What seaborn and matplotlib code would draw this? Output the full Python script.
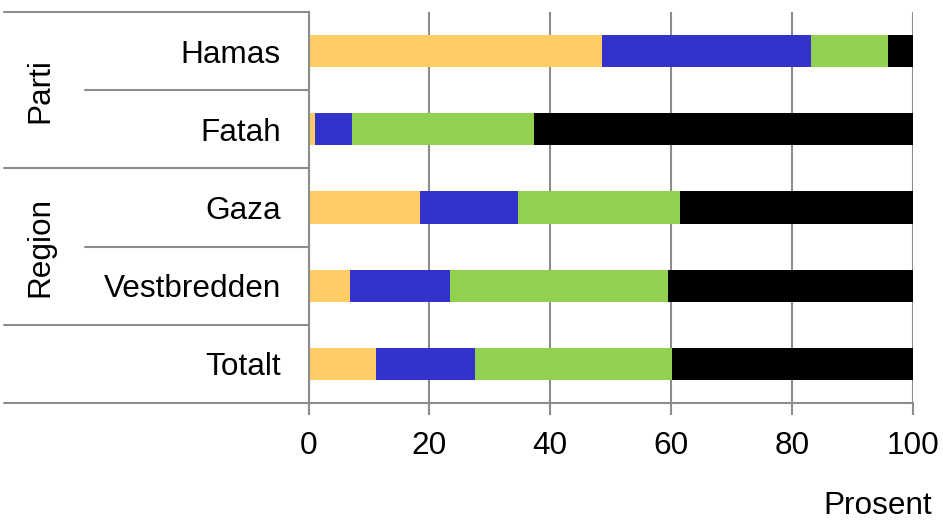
import numpy as np
import pandas as pd
import matplotlib.pyplot as plt
import seaborn as sns
from matplotlib.lines import Line2D
from matplotlib.transforms import blended_transform_factory

# categories top -> bottom
categories = ['Hamas', 'Fatah', 'Gaza', 'Vestbredden', 'Totalt']
groups = ['Parti', 'Region']

# segment shares (percent), left -> right
yellow = [48.5, 1.1, 18.4, 6.9, 11.2]
blue = [34.6, 6.1, 16.2, 16.5, 16.3]
green = [12.7, 30.1, 26.8, 36.0, 32.6]
black = [4.2, 62.7, 38.6, 40.6, 39.9]

xticks = [0, 20, 40, 60, 80, 100]

sns.set_style('white')
plt.rcParams['font.family'] = ['Liberation Sans', 'DejaVu Sans']
plt.rcParams['text.color'] = 'black'
plt.rcParams['xtick.labelcolor'] = 'black'
plt.rcParams['ytick.labelcolor'] = 'black'

df = pd.DataFrame({'cat': categories, 'yellow': yellow, 'blue': blue,
                   'green': green, 'black': black})
# cumulative ends so the layers can be drawn back to front
df['c1'] = df['yellow']
df['c2'] = df['c1'] + df['blue']
df['c3'] = df['c2'] + df['green']
df['c4'] = df['c3'] + df['black']

W, H = 943, 520
fig = plt.figure(figsize=(W / 100, H / 100), dpi=100)
ax = fig.add_axes([308.5 / W, 1 - 403 / H, (913 - 308.5) / W, (403 - 12) / H])

layers = [('c4', '#000000'), ('c3', '#92D050'), ('c2', '#3333CC'), ('c1', '#FFCC66')]
for col, colr in layers:
    sns.barplot(data=df, x=col, y='cat', order=categories, color=colr,
                saturation=1, width=0.41, linewidth=0, orient='h', ax=ax)

ax.set_xlim(0, 100)
ax.set_ylim(4.5, -0.5)
ax.set_xlabel('')
ax.set_ylabel('')
ax.set_xticks(xticks)
ax.set_xticklabels([str(t) for t in xticks])

gcol = '#8c8c8c'
ax.set_axisbelow(True)
ax.grid(axis='x', color=gcol, linewidth=1.5)
ax.grid(axis='y', visible=False)
for s in ['top', 'right']:
    ax.spines[s].set_visible(False)
for s in ['left', 'bottom']:
    ax.spines[s].set_color(gcol)
    ax.spines[s].set_linewidth(1.5)
ax.tick_params(axis='x', direction='out', length=8.5, width=1.5, color=gcol,
               labelsize=22.7, pad=12, bottom=True, labelcolor='black')
ax.tick_params(axis='y', length=0, labelsize=22.7, pad=20, labelcolor='black')

# category separators in the label area
tr = blended_transform_factory(fig.transFigure, ax.transData)
for yb in [-0.5, 1.5, 3.5, 4.5]:
    fig.add_artist(Line2D([4 / W, 308.5 / W], [yb, yb], transform=tr,
                          color=gcol, linewidth=1.5))
for yb in [0.5, 2.5]:
    fig.add_artist(Line2D([85 / W, 308.5 / W], [yb, yb], transform=tr,
                          color=gcol, linewidth=1.5))

# group labels
fig.text(40 / W, 0.5, groups[0], rotation=90, ha='center', va='center',
         fontsize=22.7, transform=tr, color='black')
fig.text(40 / W, 2.5, groups[1], rotation=90, ha='center', va='center',
         fontsize=22.7, transform=tr, color='black')

fig.text(932 / W, 1 - 506 / H, 'Prosent', ha='right', va='center',
         fontsize=22.7, color='black')

fig.savefig('out.png', dpi=100)
